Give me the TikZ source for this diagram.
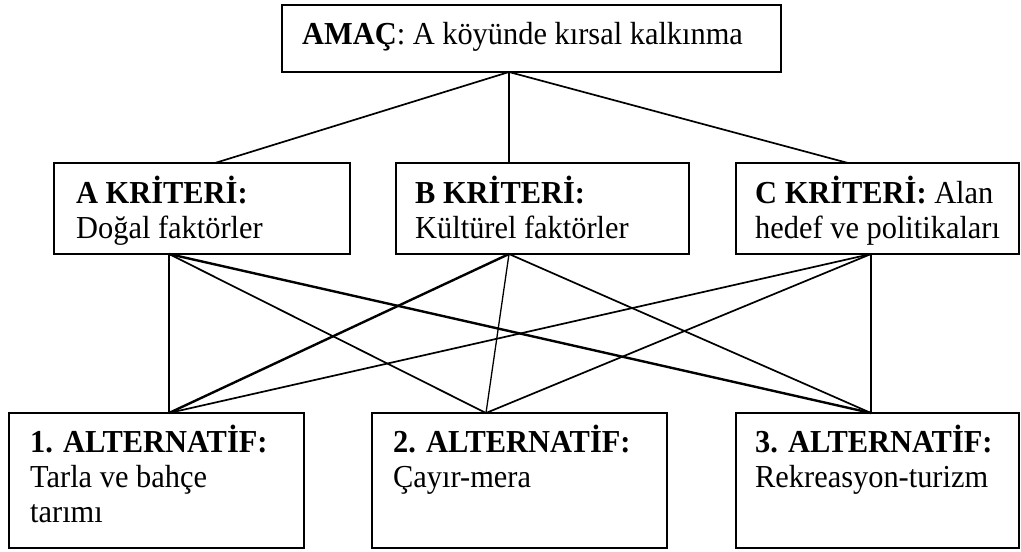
\documentclass[tikz,border=0pt]{standalone}
\usepackage{fontspec}
\setmainfont{Liberation Serif}[FakeStretch=0.95]
\usetikzlibrary{calc}
\begin{document}
\begin{tikzpicture}[x=1pt,y=-1pt,
  box/.style={draw,line width=1.8pt,anchor=north west,inner sep=0pt,outer sep=0pt},
  txt/.style={anchor=base west,inner sep=0pt,font=\fontsize{32}{35}\selectfont},
  link/.style={line width=1.7pt},
  thick link/.style={line width=2.4pt},
  thin link/.style={line width=1.3pt}]
\useasboundingbox (0,0) rectangle (1021,552);
% boxes
\node[box,minimum width=499pt,minimum height=67pt] (goal) at (282,5) {};
\node[box,minimum width=296pt,minimum height=91pt] (ka) at (54,163) {};
\node[box,minimum width=293pt,minimum height=91pt] (kb) at (396,163) {};
\node[box,minimum width=283pt,minimum height=91pt] (kc) at (736,163) {};
\node[box,minimum width=295pt,minimum height=135pt] (a1) at (9,413) {};
\node[box,minimum width=295pt,minimum height=135pt] (a2) at (372,413) {};
\node[box,minimum width=283pt,minimum height=135pt] (a3) at (736,413) {};
% texts
\node[txt] (tg) at (302,44) {\textbf{AMAÇ}: A köyünde kırsal kalkınma};
\node[txt] (ta1) at (76,203) {\textbf{A KRİTERİ:}};
\node[txt] (ta2) at (76,238) {Doğal faktörler};
\node[txt] (tb1) at (415,203) {\textbf{B KRİTERİ:}};
\node[txt] (tb2) at (415,238) {Kültürel faktörler};
\node[txt] (tc1) at (755,203) {\textbf{C KRİTERİ:} Alan};
\node[txt] (tc2) at (755,238) {hedef ve politikaları};
\node[txt] (t11) at (30,452) {\textbf{1. ALTERNATİF:}};
\node[txt] (t12) at (30,487) {Tarla ve bahçe};
\node[txt] (t13) at (30,522) {tarımı};
\node[txt] (t21) at (393,452) {\textbf{2. ALTERNATİF:}};
\node[txt] (t22) at (393,487) {Çayır-mera};
\node[txt] (t31) at (755,452) {\textbf{3. ALTERNATİF:}};
\node[txt] (t32) at (755,487) {Rekreasyon-turizm};
% attachment points
\coordinate (gs) at ($(goal.south west)+(227,0)$);
\coordinate (kat) at ($(ka.north west)+(161,0)$);
\coordinate (kbt) at ($(kb.north west)+(113,0)$);
\coordinate (kct) at ($(kc.north west)+(112,0)$);
\coordinate (kab) at ($(ka.south west)+(115,0)$);
\coordinate (kbb) at ($(kb.south west)+(113,0)$);
\coordinate (kcb) at ($(kc.south west)+(135,0)$);
\coordinate (a1t) at ($(a1.north west)+(160,0)$);
\coordinate (a2t) at ($(a2.north west)+(114,0)$);
\coordinate (a3t) at ($(a3.north west)+(135,0)$);
% connectors
\draw[link] (gs) -- (kat);
\draw[link] (gs) -- (kbt);
\draw[link] (gs) -- (kct);
\draw[link] (kab) -- (a1t);
\draw[link] (kab) -- (a2t);
\draw[thick link] (kab) -- (a3t);
\draw[thick link] (kbb) -- (a1t);
\draw[thin link] (kbb) -- (a2t);
\draw[link] (kbb) -- (a3t);
\draw[link] (kcb) -- (a1t);
\draw[link] (kcb) -- (a2t);
\draw[link] (kcb) -- (a3t);
\end{tikzpicture}
\end{document}
